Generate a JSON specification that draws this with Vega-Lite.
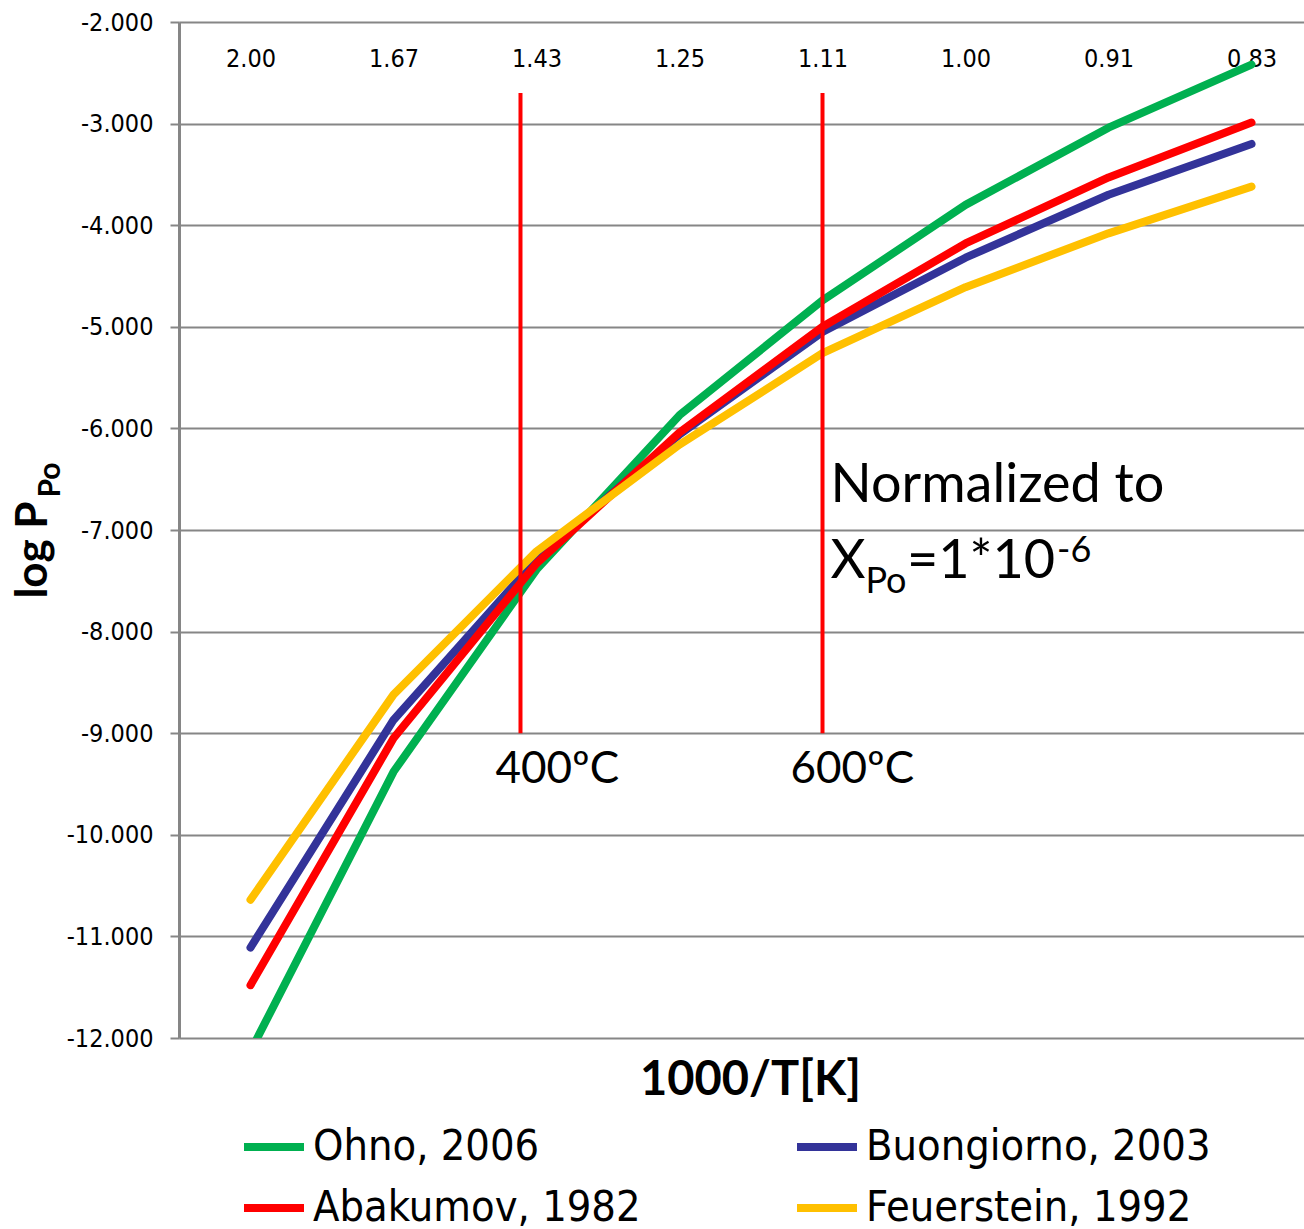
{
  "$schema": "https://vega.github.io/schema/vega-lite/v6.json",
  "width": 1125,
  "height": 1016,
  "autosize": {"type": "none"},
  "padding": {"left": 179, "top": 22, "right": 0, "bottom": 191},
  "background": "white",
  "config": {"view": {"stroke": null}},
  "datasets": {
    "curves": [
      {"series": "Ohno, 2006", "T": 500, "logP": -12.13},
      {"series": "Ohno, 2006", "T": 600, "logP": -9.38},
      {"series": "Ohno, 2006", "T": 700, "logP": -7.39},
      {"series": "Ohno, 2006", "T": 800, "logP": -5.87},
      {"series": "Ohno, 2006", "T": 900, "logP": -4.74},
      {"series": "Ohno, 2006", "T": 1000, "logP": -3.80},
      {"series": "Ohno, 2006", "T": 1100, "logP": -3.04},
      {"series": "Ohno, 2006", "T": 1200, "logP": -2.42},
      {"series": "Buongiorno, 2003", "T": 500, "logP": -11.11},
      {"series": "Buongiorno, 2003", "T": 600, "logP": -8.87},
      {"series": "Buongiorno, 2003", "T": 700, "logP": -7.29},
      {"series": "Buongiorno, 2003", "T": 800, "logP": -6.06},
      {"series": "Buongiorno, 2003", "T": 900, "logP": -5.05},
      {"series": "Buongiorno, 2003", "T": 1000, "logP": -4.32},
      {"series": "Buongiorno, 2003", "T": 1100, "logP": -3.70},
      {"series": "Buongiorno, 2003", "T": 1200, "logP": -3.20},
      {"series": "Abakumov, 1982", "T": 500, "logP": -11.48},
      {"series": "Abakumov, 1982", "T": 600, "logP": -9.05},
      {"series": "Abakumov, 1982", "T": 700, "logP": -7.33},
      {"series": "Abakumov, 1982", "T": 800, "logP": -6.04},
      {"series": "Abakumov, 1982", "T": 900, "logP": -5.00},
      {"series": "Abakumov, 1982", "T": 1000, "logP": -4.18},
      {"series": "Abakumov, 1982", "T": 1100, "logP": -3.53},
      {"series": "Abakumov, 1982", "T": 1200, "logP": -2.99},
      {"series": "Feuerstein, 1992", "T": 500, "logP": -10.64},
      {"series": "Feuerstein, 1992", "T": 600, "logP": -8.62},
      {"series": "Feuerstein, 1992", "T": 700, "logP": -7.21},
      {"series": "Feuerstein, 1992", "T": 800, "logP": -6.16},
      {"series": "Feuerstein, 1992", "T": 900, "logP": -5.26},
      {"series": "Feuerstein, 1992", "T": 1000, "logP": -4.61},
      {"series": "Feuerstein, 1992", "T": 1100, "logP": -4.08},
      {"series": "Feuerstein, 1992", "T": 1200, "logP": -3.62}
    ],
    "markers": [
      {"T": 688.8, "top": -2.70, "bottom": -9.0},
      {"T": 900.0, "top": -2.70, "bottom": -9.0}
    ],
    "notes": [
      {"kind": "main", "text": "Normalized to", "T": 905.6, "logP": -6.724},
      {"kind": "main", "text": "X", "T": 905.6, "logP": -7.472},
      {"kind": "main", "text": "=1*10", "T": 959.0, "logP": -7.472},
      {"kind": "label", "text": "400ºC", "T": 671.3, "logP": -9.49},
      {"kind": "label", "text": "600ºC", "T": 877.6, "logP": -9.49},
      {"kind": "small", "text": "Po", "T": 930.0, "logP": -7.62},
      {"kind": "small", "text": "-6", "T": 1064.0, "logP": -7.315}
    ],
    "ytitle": [
      {"kind": "main", "text": "log P", "T": 358.0, "logP": -7.197},
      {"kind": "small", "text": "Po", "T": 367.1, "logP": -6.508}
    ]
  },
  "resolve": {"axis": {"x": "independent", "y": "independent"}},
  "layer": [
    {
      "data": {"name": "curves"},
      "mark": {"type": "line", "strokeWidth": 8, "strokeCap": "round", "strokeJoin": "round", "clip": true},
      "encoding": {
        "x": {
          "field": "T", "type": "quantitative",
          "scale": {"domain": [450, 1236.7], "nice": false, "zero": false},
          "axis": {
            "orient": "top", "values": [500, 600, 700, 800, 900, 1000, 1100, 1200],
            "labelExpr": "format(1000/datum.value, '.2f')",
            "domain": false, "ticks": false, "tickSize": 0, "grid": false,
            "labelPadding": -44, "labelBaseline": "alphabetic",
            "labelFont": "DejaVu Sans Condensed, Liberation Sans, sans-serif", "labelFontSize": 25, "labelColor": "black",
            "labelFlush": false, "labelOverlap": false, "title": null
          }
        },
        "y": {
          "field": "logP", "type": "quantitative",
          "scale": {"domain": [-12, -2], "nice": false, "zero": false},
          "axis": {
            "orient": "left", "values": [-12, -11, -10, -9, -8, -7, -6, -5, -4, -3, -2],
            "labelExpr": "(datum.value < 0 ? '-' : '') + format(abs(datum.value), '.3f')",
            "labelFont": "DejaVu Sans Condensed, Liberation Sans, sans-serif", "labelFontSize": 25, "labelColor": "black",
            "labelPadding": 17, "tickSize": 9, "tickColor": "#868686", "tickWidth": 2,
            "domainColor": "#868686", "domainWidth": 3,
            "grid": true, "gridColor": "#868686", "gridWidth": 2,
            "labelFlush": false, "labelOverlap": false, "title": null
          }
        },
        "color": {
          "field": "series", "type": "nominal",
          "scale": {
            "domain": ["Ohno, 2006", "Buongiorno, 2003", "Abakumov, 1982", "Feuerstein, 1992"],
            "range": ["#00B050", "#333399", "#FF0000", "#FFC000"]
          },
          "legend": {
            "orient": "none", "legendX": 61, "legendY": 1091, "columns": 2,
            "direction": "horizontal", "title": null,
            "symbolType": "stroke", "symbolSize": 3600, "symbolStrokeWidth": 8,
            "labelFont": "DejaVu Sans Condensed, Liberation Sans, sans-serif", "labelFontSize": 43, "labelColor": "black",
            "labelLimit": 800, "labelOffset": 5, "columnPadding": 140, "rowPadding": 5
          }
        }
      }
    },
    {
      "data": {"name": "markers"},
      "mark": {"type": "rule", "color": "#FF0000", "strokeWidth": 4},
      "encoding": {
        "x": {
          "field": "T", "type": "quantitative",
          "axis": {
            "orient": "bottom", "labels": false, "ticks": false, "domain": false, "grid": false,
            "title": "1000/T[K]", "titleFont": "Lato", "titleFontWeight": "bold",
            "titleFontSize": 47, "titleColor": "black", "titlePadding": 19, "titleX": 571
          }
        },
        "y": {"field": "top", "type": "quantitative", "axis": null},
        "y2": {"field": "bottom"}
      }
    },
    {
      "data": {"name": "notes"},
      "transform": [{"filter": "datum.kind == 'main'"}],
      "mark": {"type": "text", "align": "left", "baseline": "alphabetic", "font": "Lato", "fontSize": 54, "color": "black"},
      "encoding": {
        "x": {"field": "T", "type": "quantitative", "axis": null},
        "y": {"field": "logP", "type": "quantitative", "axis": null},
        "text": {"field": "text"}
      }
    },
    {
      "data": {"name": "notes"},
      "transform": [{"filter": "datum.kind == 'label'"}],
      "mark": {"type": "text", "align": "left", "baseline": "alphabetic", "font": "Lato", "fontSize": 44, "color": "black"},
      "encoding": {
        "x": {"field": "T", "type": "quantitative", "axis": null},
        "y": {"field": "logP", "type": "quantitative", "axis": null},
        "text": {"field": "text"}
      }
    },
    {
      "data": {"name": "notes"},
      "transform": [{"filter": "datum.kind == 'small'"}],
      "mark": {"type": "text", "align": "left", "baseline": "alphabetic", "font": "Lato", "fontSize": 36, "color": "black"},
      "encoding": {
        "x": {"field": "T", "type": "quantitative", "axis": null},
        "y": {"field": "logP", "type": "quantitative", "axis": null},
        "text": {"field": "text"}
      }
    },
    {
      "data": {"name": "ytitle"},
      "transform": [{"filter": "datum.kind == 'main'"}],
      "mark": {"type": "text", "align": "center", "baseline": "alphabetic", "angle": 270, "font": "Lato", "fontWeight": "bold", "fontSize": 44, "color": "black"},
      "encoding": {
        "x": {"field": "T", "type": "quantitative", "axis": null},
        "y": {"field": "logP", "type": "quantitative", "axis": null},
        "text": {"field": "text"}
      }
    },
    {
      "data": {"name": "ytitle"},
      "transform": [{"filter": "datum.kind == 'small'"}],
      "mark": {"type": "text", "align": "center", "baseline": "alphabetic", "angle": 270, "font": "Lato", "fontWeight": "bold", "fontSize": 30, "color": "black"},
      "encoding": {
        "x": {"field": "T", "type": "quantitative", "axis": null},
        "y": {"field": "logP", "type": "quantitative", "axis": null},
        "text": {"field": "text"}
      }
    }
  ]
}
